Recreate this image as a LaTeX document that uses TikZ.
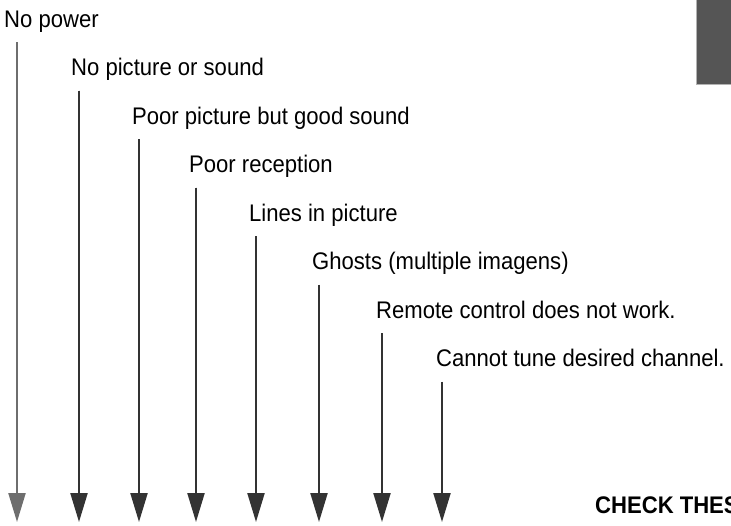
\documentclass[tikz,border=0pt]{standalone}
\usepackage{fontspec}
\setmainfont{Liberation Sans}[FakeStretch=0.92]
\usetikzlibrary{arrows.meta}
\definecolor{arrowdark}{RGB}{51,51,51}
\definecolor{arrowlight}{RGB}{110,110,110}
\definecolor{tabgray}{RGB}{85,85,85}

\begin{document}
\begin{tikzpicture}[x=1pt,y=-1pt,
		symptom/.style={anchor=base west,inner sep=0pt,font=\fontsize{24}{28}\selectfont},
		downarrow/.style={line width=2.2pt,-{Triangle[length=29pt,width=17pt]}}]
		\useasboundingbox (0,0) rectangle (731,525);
		\clip (0,0) rectangle (731,525);
		% tab at the top right
		\fill[tabgray] (696,0) rectangle (731,84);
		\draw[gray!60,line width=1pt] (696,0) -- (696,84) -- (731,84);
		% symptoms and their arrows
		\foreach \i/\lx/\ax/\col/\txt in {
			1/4/17/arrowlight/No power,
			2/71/79/arrowdark/No picture or sound,
			3/132/139/arrowdark/Poor picture but good sound,
			4/189/196/arrowdark/Poor reception,
			5/249/256/arrowdark/Lines in picture,
			6/312/319/arrowdark/Ghosts (multiple imagens),
			7/376/382/arrowdark/Remote control does not work.,
			8/436/442/arrowdark/Cannot tune desired channel.}{
			\pgfmathsetmacro{\by}{27+48.57*(\i-1)}
			\node[symptom] (label\i) at (\lx,\by) {\txt};
			\coordinate (top\i) at (\ax,\by+15);
			\coordinate (tip\i) at (\ax,522);
			\draw[downarrow,draw=\col,fill=\col] (top\i) -- (tip\i);
		}
		\node[anchor=base west,inner sep=0pt,font=\bfseries\fontsize{24}{28}\selectfont] (check) at (595,513) {CHECK THES};
	\end{tikzpicture}
\end{document}
